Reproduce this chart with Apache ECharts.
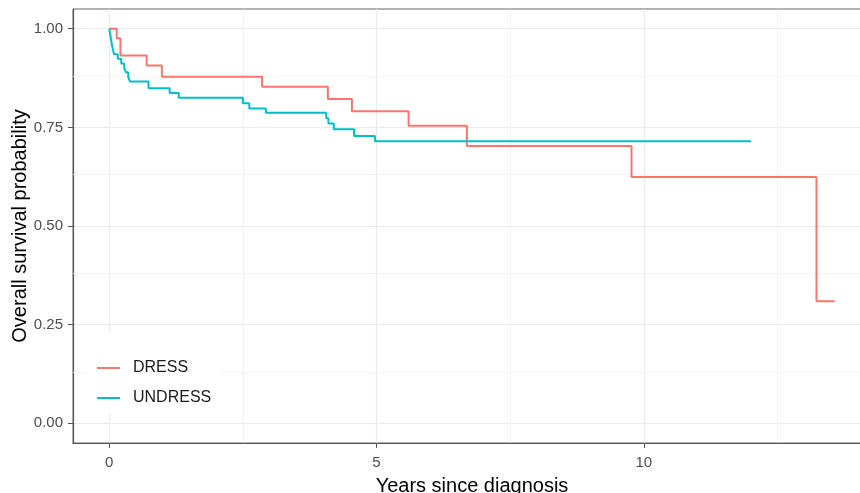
<!DOCTYPE html>
<html>
<head>
<meta charset="utf-8">
<script src="https://cdn.jsdelivr.net/npm/echarts@6/dist/echarts.min.js"></script>
<style>
html,body{margin:0;padding:0;background:#fff;}
#chart{width:860px;height:493px;}
</style>
</head>
<body>
<div id="chart"></div>
<script>
// Data (Kaplan-Meier step curves)
const groupNames = ['DRESS', 'UNDRESS'];
const dressTimes = [0, 0.14, 0.21, 0.70, 0.985, 2.86, 4.09, 4.54, 5.60, 6.69, 9.77, 13.23, 13.57];
const dressSurv  = [1, 0.976, 0.932, 0.907, 0.878, 0.853, 0.822, 0.791, 0.754, 0.703, 0.624, 0.309, 0.309];
const undressTimes = [0, 0.015, 0.03, 0.045, 0.065, 0.09, 0.16, 0.225, 0.28, 0.31, 0.355, 0.39, 0.735, 1.13, 1.30, 2.50, 2.62, 2.93, 4.06, 4.10, 4.20, 4.58, 4.97, 12.01];
const undressSurv  = [1, 0.988, 0.976, 0.963, 0.950, 0.935, 0.924, 0.912, 0.901, 0.890, 0.878, 0.866, 0.849, 0.837, 0.825, 0.811, 0.798, 0.787, 0.773, 0.760, 0.745, 0.728, 0.715, 0.715];
const xTickValues = [0, 5, 10];
const yTickValues = [0, 0.25, 0.5, 0.75, 1];
const xMinorValues = [2.5, 7.5, 12.5];
const yMinorValues = [0.125, 0.375, 0.625, 0.875];
const xTitle = 'Years since diagnosis';
const yTitle = 'Overall survival probability';

const colors = ['#F8766D', '#00BFC4'];
const font = '"Liberation Sans", Arial, sans-serif';

function pairs(t, s) { return t.map((v, i) => [v, s[i]]); }

const minorLines = xMinorValues.map(v => ({xAxis: v})).concat(yMinorValues.map(v => ({yAxis: v})));

const chart = echarts.init(document.getElementById('chart'), null, {renderer: 'canvas'});
chart.setOption({
  animation: false,
  backgroundColor: '#ffffff',
  color: colors,
  grid: {
    left: 73, right: -11, top: 9, bottom: 50,
    outerBoundsMode: 'none',
    containLabel: false,
    show: true, borderColor: '#666666', borderWidth: 1, backgroundColor: 'transparent'
  },
  legend: {
    orient: 'vertical',
    left: 87, top: 332,
    z: 10,
    backgroundColor: '#ffffff',
    padding: [28, 10, 8, 10],
    icon: 'rect',
    itemWidth: 23, itemHeight: 2, itemGap: 14,
    textStyle: {fontFamily: font, fontSize: 16, color: '#1a1a1a', padding: [0, 0, 0, 8]},
    data: groupNames
  },
  xAxis: {
    type: 'value',
    min: -0.678, max: 14.25,
    interval: 5,
    name: xTitle,
    nameLocation: 'middle',
    nameGap: 33,
    nameMoveOverlap: false,
    nameTextStyle: {fontFamily: font, fontSize: 20, color: '#000000'},
    axisLine: {show: true, onZero: false, lineStyle: {color: '#555555', width: 1.2}},
    axisTick: {show: true, length: 5, lineStyle: {color: '#555555'}, customValues: xTickValues},
    axisLabel: {fontFamily: font, fontSize: 15, color: '#4D4D4D', margin: 12, customValues: xTickValues, formatter: v => String(v)},
    splitLine: {show: true, lineStyle: {color: '#EBEBEB', width: 1.2}},
    minorSplitLine: {show: false}
  },
  yAxis: {
    type: 'value',
    min: -0.05, max: 1.05,
    interval: 0.25,
    name: yTitle,
    nameLocation: 'middle',
    nameGap: 43,
    nameMoveOverlap: false,
    nameTextStyle: {fontFamily: font, fontSize: 20, color: '#000000'},
    axisLine: {show: true, onZero: false, lineStyle: {color: '#555555', width: 1.2}},
    axisTick: {show: true, length: 5, lineStyle: {color: '#555555'}, customValues: yTickValues},
    axisLabel: {fontFamily: font, fontSize: 15, color: '#4D4D4D', margin: 10, customValues: yTickValues, formatter: v => v.toFixed(2)},
    splitLine: {show: true, lineStyle: {color: '#EBEBEB', width: 1.2}},
    minorSplitLine: {show: false}
  },
  series: [
    {name: 'minor-grid', type: 'line', data: [], z: 1, silent: true, legendHoverLink: false,
     markLine: {silent: true, z: 1, symbol: ['none', 'none'], label: {show: false},
                lineStyle: {type: 'solid', color: '#F0F0F0', width: 0.8},
                emphasis: {disabled: true}, animation: false, data: minorLines}},
    {name: groupNames[0], type: 'line', step: 'end', symbol: 'none', data: pairs(dressTimes, dressSurv),
     lineStyle: {color: colors[0], width: 2}, itemStyle: {color: colors[0]}, z: 2},
    {name: groupNames[1], type: 'line', step: 'end', symbol: 'none', data: pairs(undressTimes, undressSurv),
     lineStyle: {color: colors[1], width: 2}, itemStyle: {color: colors[1]}, z: 3}
  ]
});
</script>
</body>
</html>
